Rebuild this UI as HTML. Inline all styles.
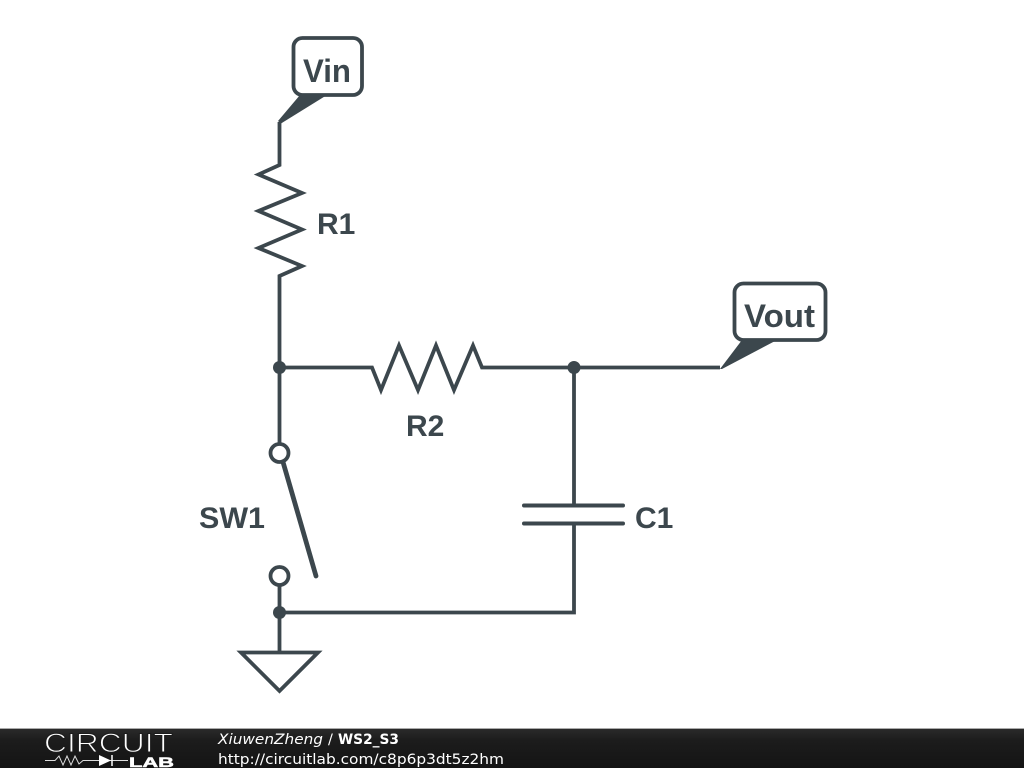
<!DOCTYPE html>
<html>
<head>
<meta charset="utf-8">
<style>
html,body{margin:0;padding:0;background:#fff;width:1024px;height:768px;overflow:hidden}
svg{display:block}
.l{font-family:"Liberation Sans",sans-serif;font-weight:bold;font-size:30px;fill:#3c474d}
.f{font-family:"DejaVu Sans",sans-serif;font-size:14.5px;fill:#fff}
</style>
</head>
<body>
<svg width="1024" height="768" viewBox="0 0 1024 768" xmlns="http://www.w3.org/2000/svg">
<defs>
<linearGradient id="bar" x1="0" y1="0" x2="0" y2="1">
<stop offset="0" stop-color="#2a2a2a"/>
<stop offset="0.3" stop-color="#1c1c1c"/>
<stop offset="1" stop-color="#141414"/>
</linearGradient>
</defs>
<rect width="1024" height="768" fill="#fff"/>
<g fill="none" stroke="#3c474d" stroke-width="3.8" stroke-linejoin="miter">
<path d="M279.5 122V165L258.500 174.500L302 193L258.500 211L302 229.500L258.500 248L302 266L279.5 276V444"/>
<path d="M279.5 367.5H372L381 390L399 345.500L418 390L436 345.500L454 390L473 345.500L482 367.5H720"/>
<path d="M574 367.5V505.5M574 523.5V612.5H279.5"/>
<path d="M279.5 585V652"/>
<circle cx="279.5" cy="453" r="9"/>
<circle cx="279.5" cy="576" r="9"/>
<path d="M241 652.5H318L279.5 691Z"/>
<rect x="293.5" y="38" width="68.500" height="57" rx="9" fill="#fff"/>
<rect x="734.5" y="283.5" width="91" height="56.500" rx="9" fill="#fff"/>
<path d="M524 505.500H623M524 523.500H623" stroke-linecap="round" stroke-width="4"/>
<path d="M283 462L316 576" stroke-linecap="round" stroke-width="4.800"/>
</g>
<g fill="#3c474d">
<circle cx="279.500" cy="367.500" r="6.500"/>
<circle cx="574" cy="367.500" r="6.500"/>
<circle cx="279.500" cy="612.500" r="6.500"/>
<path d="M278 121L300 95H327L281 123.500Z"/>
<path d="M720 369L742 340H777L722 369Z"/>
</g>
<text class="l" x="303" y="82" style="font-size:32px" textLength="48" lengthAdjust="spacingAndGlyphs">Vin</text>
<text class="l" x="744" y="327" style="font-size:32px" textLength="71" lengthAdjust="spacingAndGlyphs">Vout</text>
<text class="l" x="317" y="234">R1</text>
<text class="l" x="406" y="436">R2</text>
<text class="l" x="199" y="528" textLength="66" lengthAdjust="spacingAndGlyphs">SW1</text>
<text class="l" x="635" y="528">C1</text>
<rect x="0" y="728" width="1024" height="1" fill="#aaa"/>
<rect x="0" y="729" width="1024" height="39" fill="url(#bar)"/>
<text x="44" y="752" textLength="129" lengthAdjust="spacingAndGlyphs" font-family="Liberation Sans, sans-serif" font-size="27" fill="#fff" stroke="#1c1c1c" stroke-width="1" paint-order="fill stroke">CIRCUIT</text>
<text x="129" y="767" textLength="45" lengthAdjust="spacingAndGlyphs" font-family="Liberation Sans, sans-serif" font-size="14" font-weight="bold" fill="#fff" stroke="#fff" stroke-width="0.5">LAB</text>
<path d="M45 760.500H55L59 756L63 765L67 756L71 765L75 756L79 764L83 760.500H128" fill="none" stroke="#ddd" stroke-width="1"/>
<path d="M99 755L111 760.500L99 766Z" fill="#fff"/>
<path d="M112 755V766" stroke="#fff" stroke-width="1.500"/>
<text class="f" x="218" y="744" font-style="italic" textLength="105" lengthAdjust="spacingAndGlyphs">XiuwenZheng</text>
<text class="f" x="328" y="744">/</text>
<text class="f" x="338" y="744" font-weight="bold" textLength="61" lengthAdjust="spacingAndGlyphs">WS2_S3</text>
<text class="f" x="218" y="764" textLength="286" lengthAdjust="spacingAndGlyphs">http://circuitlab.com/c8p6p3dt5z2hm</text>
</svg>
</body>
</html>
